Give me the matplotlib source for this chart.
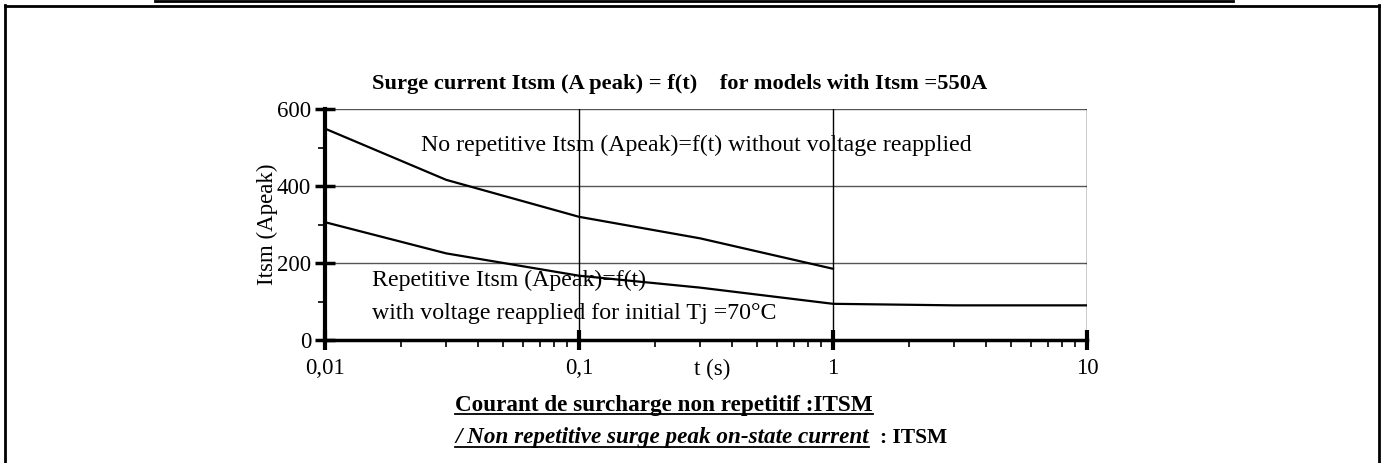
import matplotlib
matplotlib.use("Agg")
import matplotlib.pyplot as plt
from matplotlib.lines import Line2D
from matplotlib.ticker import FixedLocator, LogLocator, NullFormatter

# ---- data ----
t_upper = [0.01, 0.03, 0.1, 0.3, 1.0]
itsm_upper = [549, 416, 320, 264, 185]
t_lower = [0.01, 0.03, 0.1, 0.3, 1.0, 3.0, 10.0]
itsm_lower = [306, 225, 167, 136, 94, 90, 90]
x_ticks = [0.01, 0.1, 1, 10]
x_ticklabels = ["0,01", "0,1", "1", "10"]
y_ticks = [0, 200, 400, 600]
y_minor = [100, 300, 500]

W, H = 1385, 463
fig = plt.figure(figsize=(W / 100, H / 100), dpi=100)
plt.rcParams['font.family'] = ['Liberation Serif', 'DejaVu Serif']

def fx(px):
    return px / W

def fy(py):
    return 1 - py / H

# outer frame
fig.add_artist(Line2D([fx(5), fx(5)], [fy(5), fy(470)], color='black', lw=2))
fig.add_artist(Line2D([fx(5), fx(1379)], [fy(5.5), fy(5.5)], color='black', lw=2))
fig.add_artist(Line2D([fx(1379), fx(1379)], [fy(5), fy(470)], color='black', lw=2))
fig.add_artist(Line2D([fx(155), fx(1233)], [fy(0.5), fy(0.5)], color='black', lw=2))

left, right, top, bottom = 325, 1087, 109, 340
ax = fig.add_axes([fx(left), fy(bottom), fx(right - left), (bottom - top) / H])
ax.set_xscale('log')
ax.set_xlim(0.01, 10)
ax.set_ylim(0, 600)

ax.plot(t_upper, itsm_upper, color='black', lw=1.6, zorder=3)
ax.plot(t_lower, itsm_lower, color='black', lw=1.6, zorder=3)

# grid
for y in [200, 400, 600]:
    ax.axhline(y, color='#555555', lw=1.0, zorder=1)
for x in [0.1, 1, 10]:
    ax.axvline(x, color='black', lw=1.0, zorder=1)

for s in ['top', 'right']:
    ax.spines[s].set_visible(False)
ax.spines['left'].set_linewidth(3)
ax.spines['bottom'].set_linewidth(2.5)

ax.xaxis.set_major_locator(FixedLocator(x_ticks))
ax.set_xticklabels(x_ticklabels)
ax.xaxis.set_minor_locator(LogLocator(base=10, subs=range(2, 10)))
ax.xaxis.set_minor_formatter(NullFormatter())
ax.set_yticks(y_ticks)
ax.yaxis.set_minor_locator(FixedLocator(y_minor))

ax.tick_params(axis='x', which='major', direction='inout', length=14, width=3,
               labelsize=16.5, pad=6)
ax.tick_params(axis='x', which='minor', direction='out', length=5, width=1.2)
ax.tick_params(axis='y', which='major', direction='inout', length=14, width=2.5,
               labelsize=16.5, pad=3)
ax.tick_params(axis='y', which='minor', direction='out', length=5, width=1.2)

ax.set_ylabel("Itsm (Apeak)", fontsize=16.5)
ax.yaxis.set_label_coords((278 - left) / (right - left), 0.5)

# x label t (s)
fig.text(fx(712), fy(369), "t (s)", fontsize=16.5, ha='center', va='center')

# annotations
fig.text(fx(421), fy(145), "No repetitive Itsm (Apeak)=f(t) without voltage reapplied",
         fontsize=17.2, ha='left', va='center')
fig.text(fx(372), fy(280), "Repetitive Itsm (Apeak)=f(t)", fontsize=17.2, ha='left', va='center')
fig.text(fx(372), fy(313), "with voltage reapplied for initial Tj =70\u00b0C", fontsize=17.2,
         ha='left', va='center')

# title
fig.text(fx(680), fy(84), "Surge current Itsm (A peak) = f(t)    for models with Itsm =550A",
         fontsize=16.2, fontweight='bold', ha='center', va='center')

# bottom texts
t1 = fig.text(fx(664), fy(405), "Courant de surcharge non repetitif :ITSM",
              fontsize=16.7, fontweight='bold', ha='center', va='center')
t2 = fig.text(fx(455), fy(438), "/ Non repetitive surge peak on-state current",
              fontsize=16.7, fontweight='bold', fontstyle='italic', ha='left', va='center')
t3 = fig.text(fx(880), fy(438), ": ITSM", fontsize=15.5, fontweight='bold',
              ha='left', va='center')

fig.canvas.draw()
r = fig.canvas.get_renderer()
for t in (t1, t2):
    bb = t.get_window_extent(r)
    yline = bb.y0 + 2
    fig.add_artist(Line2D([bb.x0 / W, bb.x1 / W], [yline / H, yline / H],
                          color='black', lw=1.3))

fig.savefig("out.png", dpi=100)
